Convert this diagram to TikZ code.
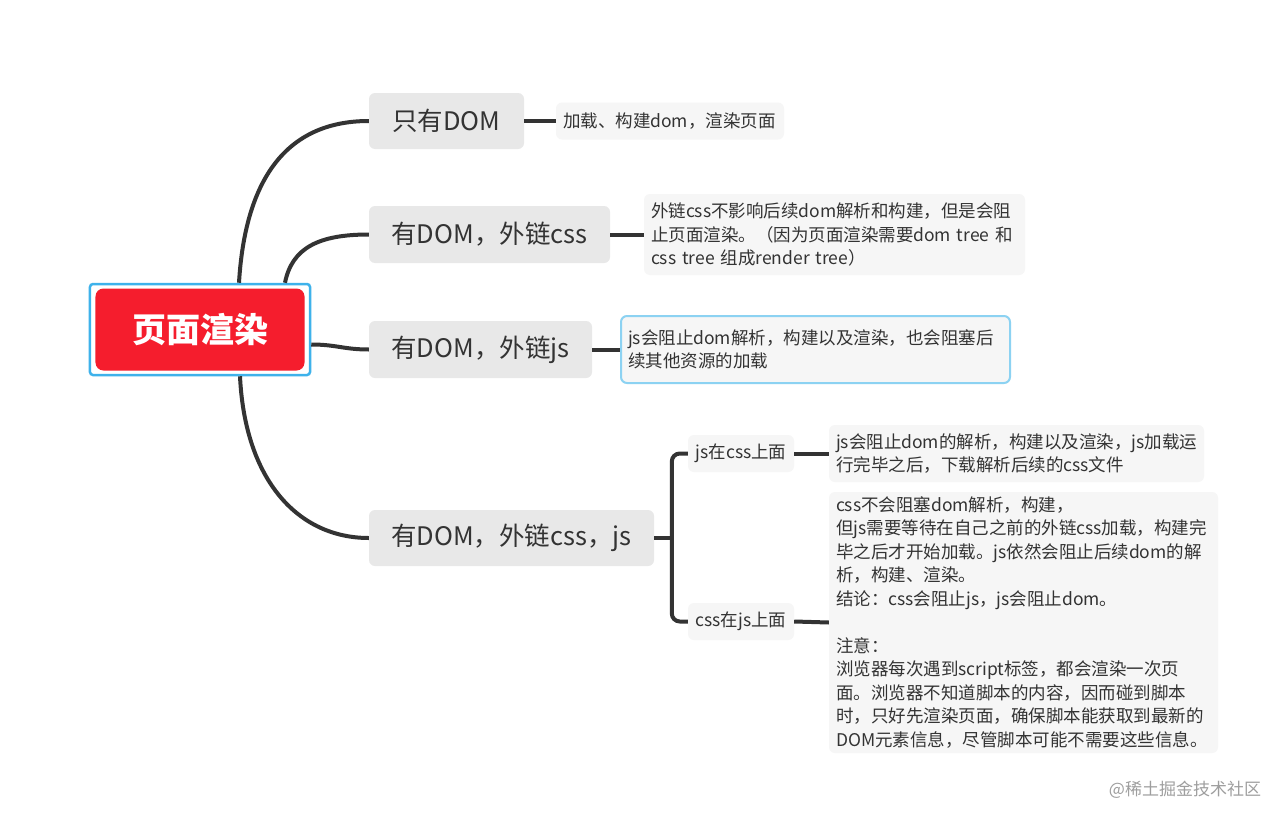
\documentclass[tikz,border=0pt]{standalone}
\usepackage{fontspec}
\setmainfont{Noto Sans CJK SC}
\usetikzlibrary{calc}
\definecolor{rootred}{RGB}{245,29,45}
\definecolor{rootblue}{RGB}{62,178,235}
\definecolor{topicgray}{RGB}{232,232,232}
\definecolor{notegray}{RGB}{246,246,246}
\definecolor{noteblue}{RGB}{140,210,242}
\definecolor{linegray}{RGB}{51,51,51}
\definecolor{textgray}{RGB}{51,51,51}

\begin{document}
\begin{tikzpicture}[x=1bp,y=-1bp,
  line/.style={draw=linegray,line width=4bp},
  topic/.style={fill=topicgray,rounded corners=6bp,text=textgray,inner sep=0pt,font=\fontsize{25.5bp}{30bp}\selectfont},
  note/.style={fill=notegray,rounded corners=6bp,text=textgray,inner ysep=0pt,inner xsep=7bp,align=left,font=\fontsize{17.5bp}{23.5bp}\selectfont},
  sub/.style={fill=notegray,rounded corners=6bp,text=textgray,inner sep=0pt,font=\fontsize{17.5bp}{20bp}\selectfont}]
\path[fill=white,use as bounding box] (0,0) rectangle (1287,823);
% central topic
\node[draw=rootblue,line width=2.5bp,rounded corners=3bp,minimum width=220bp,minimum height=91bp] (frame) at (200,329.5) {};
\node[fill=rootred,rounded corners=8bp,minimum width=209bp,minimum height=82bp,text=white,font=\fontsize{34bp}{40bp}\selectfont\bfseries] (root) at (frame) {页面渲染};
% main topics
\node[topic,minimum width=155bp,minimum height=56bp] (dom) at (446.5,121) {只有DOM};
\node[topic,minimum width=241bp,minimum height=57bp] (domcss) at (489.5,234.5) {有DOM，外链css};
\node[topic,minimum width=223bp,minimum height=57bp] (domjs) at (480.5,349.5) {有DOM，外链js};
\node[topic,minimum width=285bp,minimum height=56bp] (domcssjs) at (511.5,538) {有DOM，外链css，js};
% notes
\node[note,text width=214bp,minimum height=37bp] (domnote) at (670,121) {加载、构建dom，渲染页面};
\node[note,text width=367bp,minimum height=81bp] (cssnote) at (834.5,234.5) {外链css不影响后续dom解析和构建，但是会阻\\止页面渲染。（因为页面渲染需要dom tree 和\\css tree 组成render tree）};
\node[note,draw=noteblue,line width=2bp,text width=375bp,minimum height=67bp] (jsnote) at (815.5,349.5) {js会阻止dom解析，构建以及渲染，也会阻塞后\\续其他资源的加载};
\node[sub,minimum width=106bp,minimum height=37bp] (jsfirst) at (741,453.5) {js在css上面};
\node[sub,minimum width=106bp,minimum height=37bp] (cssfirst) at (741,621.5) {css在js上面};
\node[note,text width=361bp,minimum height=57bp] (jsfirstnote) at (1016.5,453.5) {js会阻止dom的解析，构建以及渲染，js加载运\\行完毕之后，下载解析后续的css文件};
\node[note,text width=375bp,minimum height=261bp] (cssfirstnote) at (1023.5,622.5) {css不会阻塞dom解析，构建，\\但js需要等待在自己之前的外链css加载，构建完\\毕之后才开始加载。js依然会阻止后续dom的解\\析，构建、渲染。\\结论：css会阻止js，js会阻止dom。\\[23.5bp]注意：\\浏览器每次遇到script标签，都会渲染一次页\\面。浏览器不知道脚本的内容，因而碰到脚本\\时，只好先渲染页面，确保脚本能获取到最新的\\DOM元素信息，尽管脚本可能不需要这些信息。};
% connectors
\draw[line] ($(frame.north)+(39,0)$) .. controls ($(frame.north)+(45,-100)$) and ($(dom.west)+(-85,0)$) .. (dom.west);
\draw[line] ($(frame.north)+(85,0)$) .. controls ($(frame.north)+(92,-35)$) and ($(domcss.west)+(-50,0)$) .. (domcss.west);
\draw[line] ($(frame.east)+(0,15)$) .. controls ($(frame.east)+(25,15)$) and ($(domjs.west)+(-25,0)$) .. (domjs.west);
\draw[line] ($(frame.south)+(40,0)$) .. controls ($(frame.south)+(45,105)$) and ($(domcssjs.west)+(-70,0)$) .. (domcssjs.west);
\draw[line] (dom.east) -- (domnote.west);
\draw[line] (domcss.east) -- (cssnote.west);
\draw[line] (domjs.east) -- (jsnote.west);
\draw[line] (domcssjs.east) -- ++(17,0);
\draw[line,rounded corners=8bp] (jsfirst.west) -- ++(-16,0) |- (cssfirst.west);
\draw[line] (jsfirst.east) -- (jsfirstnote.west);
\draw[line] (cssfirst.east) -- (cssfirstnote.west);
% watermark
\node[text=black!38,font=\fontsize{17bp}{20bp}\selectfont] (mark) at (1185,790) {@稀土掘金技术社区};
\end{tikzpicture}
\end{document}
